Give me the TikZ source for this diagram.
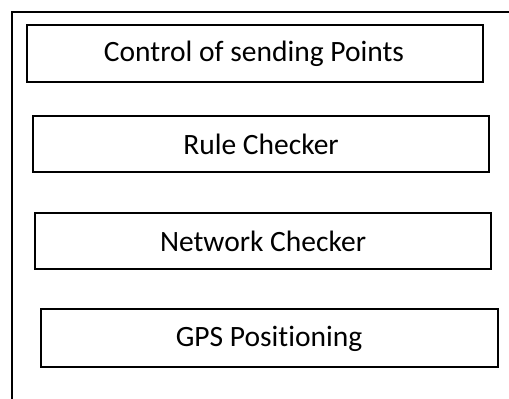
\documentclass[tikz,border=0pt]{standalone}
\usepackage{fontspec}
\setmainfont[Ligatures=NoCommon]{Carlito}
\begin{document}
\begin{tikzpicture}[x=1pt,y=-1pt,
  modbox/.style={draw=black,line width=1.5pt},
  lbl/.style={font=\fontsize{29.5}{34}\selectfont,anchor=center,inner sep=0pt}]
\useasboundingbox (0,0) rectangle (509,399);
% outer frame (top and left edges)
\coordinate (ftl) at (12,12);
\coordinate (ftr) at (509,12);
\coordinate (fbl) at (12,399);
\draw[line width=1.5pt] (ftr) -- (ftl) -- (fbl);
% module boxes
\draw[modbox] (27,25) rectangle (483,82);
\node[lbl] (ctrl) at (254,54) {Control of sending Points};
\draw[modbox] (33,116) rectangle (489,172);
\node[lbl] (rule) at (261,144) {Rule Checker};
\draw[modbox] (35,213) rectangle (491,269);
\node[lbl] (net) at (263,241) {Network Checker};
\draw[modbox] (41,309) rectangle (498,367);
\node[lbl] (gps) at (269,339) {GPS Positioning};
\end{tikzpicture}
\end{document}
